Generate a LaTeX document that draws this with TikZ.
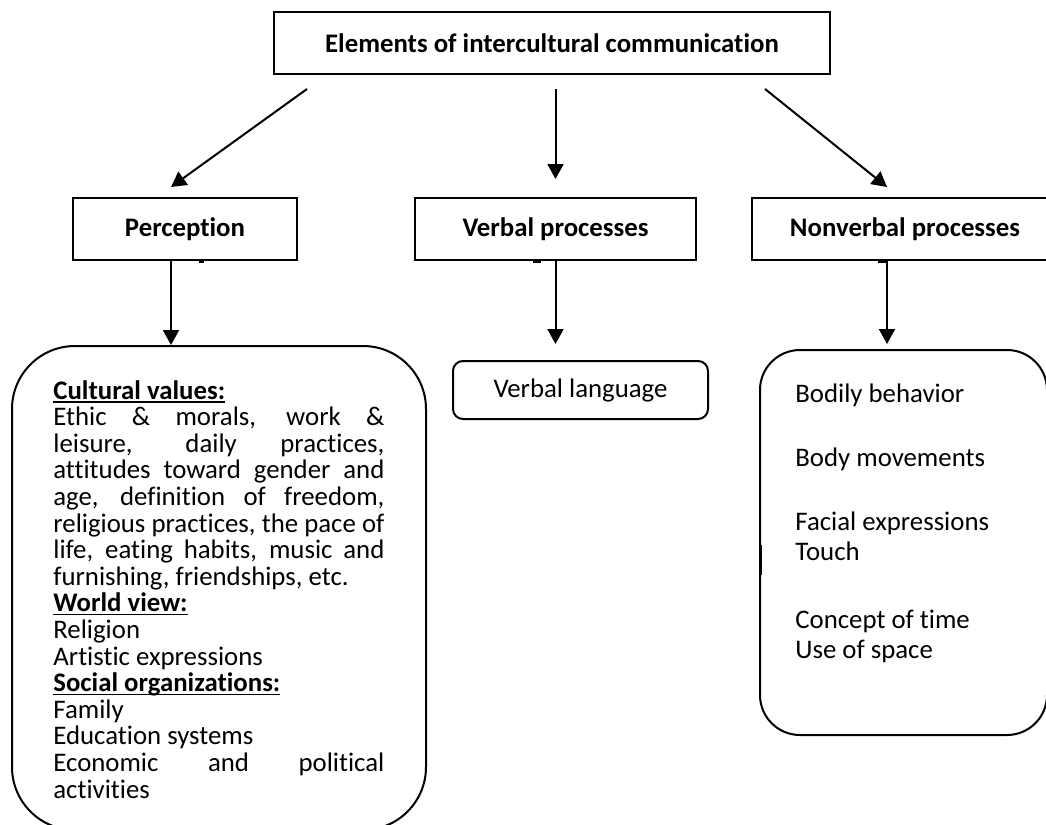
\documentclass[tikz,border=0pt]{standalone}
\usepackage{fontspec}
\setmainfont{Carlito}[Ligatures=NoCommon]
\usetikzlibrary{arrows.meta,calc}

\tikzset{arrow/.style={-{Triangle[width=8pt,length=7.5pt]},line width=1pt}}
\newcommand{\jline}[1]{\makebox[\linewidth][s]{#1}\\}
\newsavebox{\headbox}
\newcommand{\uhead}[1]{\leavevmode\sbox{\headbox}{\textbf{#1}}\rlap{\rule[-1.8pt]{\wd\headbox}{0.7pt}}\usebox{\headbox}}

\begin{document}
\begin{tikzpicture}[x=0.5pt,y=-0.5pt,
	every node/.style={font=\fontsize{13.4pt}{13.3pt}\selectfont},
	title/.style={draw,line width=1pt,minimum height=31pt,inner sep=0pt,
		font=\fontsize{13.4pt}{13.3pt}\selectfont\bfseries},
	rbox/.style={draw,line width=1pt,inner sep=0pt},
	txt/.style={anchor=base west,inner sep=0pt},
	blot/.style={line width=1.5pt},
	]
	
	\path[use as bounding box,clip] (0,0) rectangle (1046,825);
	
	% first row
	\node[title,minimum width=278pt] (top) at (552,43) {Elements of intercultural communication};
	
	% second row
	\node[title,minimum width=112pt] (perc) at (185,229) {Perception};
	\node[title,minimum width=140.5pt] (verb) at (555.5,229) {Verbal processes};
	\node[title,minimum width=153pt] (nonv) at (905,229) {Nonverbal processes};
	
	% third row
	\node[rbox,rounded corners=31.5pt,minimum width=207pt,minimum height=242pt] (cult) at (219,588) {};
	\node[rbox,rounded corners=5pt,minimum width=127.5pt,minimum height=29pt] (lang) at (580.5,390) {Verbal language};
	\node[rbox,rounded corners=20pt,minimum width=143.5pt,minimum height=192.5pt] (body) at (903.5,542.5) {};
	
	\node[txt] (culttxt) at (53,399) {\parbox[t]{165.5pt}{%
		\uhead{Cultural values:}\\
		\jline{Ethic \& morals, work \&}
		\jline{leisure, daily practices,}
		\jline{attitudes toward gender and}
		\jline{age, definition of freedom,}
		\jline{religious practices, the pace of}
		\jline{life, eating habits, music and}
		furnishing, friendships, etc.\\
		\uhead{World view:}\\
		Religion\\
		Artistic expressions\\
		\uhead{Social organizations:}\\
		Family\\
		Education systems\\
		\jline{Economic and political}
		activities}};
	
	\node[txt] (bodytxt) at (795,402) {\parbox[t]{120pt}{\fontsize{13.4pt}{15pt}\selectfont
		Bodily behavior\\[17pt]
		Body movements\\[17pt]
		Facial expressions\\
		Touch\\[19pt]
		Concept of time\\
		Use of space}};
	
	% arrows
	\draw[arrow] ($(top.south west)+(34,14)$) -- ($(perc.north)+(-14,-10)$);
	\draw[arrow,shorten <=7pt,shorten >=9pt] (top.south -| verb.north) -- (verb.north);
	\draw[arrow] ($(top.south east)+(-66,14)$) -- ($(nonv.north)+(-18,-10)$);
	
	\draw[arrow] ($(perc.south)+(-14,0)$) coordinate (p1) -- (p1 |- cult.north);
	\draw[arrow,shorten >=8pt] (verb.south) -- (verb.south |- lang.north);
	\draw[arrow,shorten >=2.5pt] ($(nonv.south)+(-18,0)$) coordinate (n1) -- (n1 |- body.north);
	
	% small marks
	\draw[blot] (199,261) -- (204,261);
	\draw[blot] (533,261) -- (541,261);
	\draw[blot] (878,261) -- (887,261);
	\draw[blot] (760,545) -- (760,575);
	
\end{tikzpicture}
\end{document}
